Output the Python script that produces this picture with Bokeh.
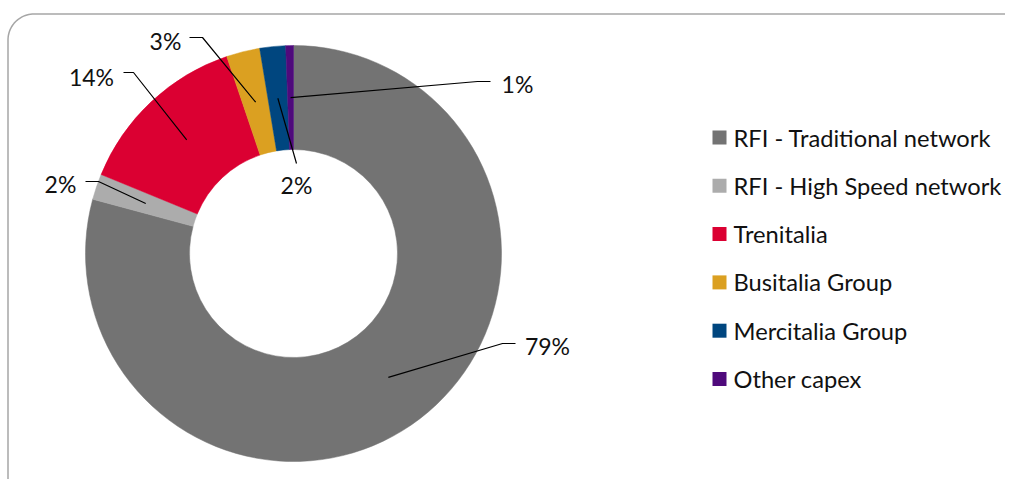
import numpy as np
from bokeh.plotting import figure
from bokeh.models import Range1d, ColumnDataSource
from bokeh.core.properties import value
from bokeh.embed import file_html
from bokeh.resources import INLINE

# ---- data ----
categories = ["RFI - Traditional network", "RFI - High Speed network", "Trenitalia",
              "Busitalia Group", "Mercitalia Group", "Other capex"]
shares = [79.2, 2.0, 13.6, 2.6, 2.0, 0.6]
colors = ["#737373", "#ACACAC", "#DB0032", "#DBA021", "#00467F", "#4F0A7C"]

# ---- layout (picture pixel coordinates, origin top-left) ----
W, H = 1005, 479
FONT = "Lato"
LABEL_FS = "23px"
LEGEND_FS = "23.7px"

def Y(py):
    return H - py

cx, cy = 293, 253
r_in, r_out = 104, 208
r_anchor = 156

# label centres and leader elbows
label_pos = [(547, 345), (60, 183), (91, 76), (165, 40), (296, 184), (517, 83)]
elbows = [[(502, 343), (515, 343)],
          [(98, 181), (85, 181)],
          [(133, 72), (123, 72)],
          [(202, 37), (189, 37)],
          [(296, 163)],
          [(477, 81), (490, 81)]]

p = figure(width=W, height=H, x_range=Range1d(0, W), y_range=Range1d(0, H),
           output_backend="svg", toolbar_location=None, x_axis_type=None, y_axis_type=None,
           min_border=0)
p.outline_line_color = None
p.grid.visible = False
p.background_fill_color = "white"

# rounded border (partly outside the canvas on the right/bottom)
def rounded_rect(x0, y0, x1, y1, r, n=24):
    pts = []
    for (ccx, ccy, a0) in [(x0 + r, y0 + r, 180), (x1 - r, y0 + r, 270),
                           (x1 - r, y1 - r, 0), (x0 + r, y1 - r, 90)]:
        for a in np.linspace(np.radians(a0), np.radians(a0 + 90), n):
            pts.append((ccx + r * np.cos(a), ccy + r * np.sin(a)))
    pts.append(pts[0])
    xs = [q[0] for q in pts]
    ys = [Y(q[1]) for q in pts]
    return xs, ys

bx, by = rounded_rect(7.5, 13.5, 1036, 510, 26)
p.line(bx, by, line_color="#A6A6A6", line_width=1.5)

# donut
total = float(sum(shares))
cum = np.cumsum([0.0] + shares)
starts = np.pi / 2 - 2 * np.pi * cum[:-1] / total
ends = np.pi / 2 - 2 * np.pi * cum[1:] / total
src = ColumnDataSource(dict(start=starts, end=ends, color=colors, cat=categories))
p.annular_wedge(x=cx, y=Y(cy), inner_radius=r_in, outer_radius=r_out,
                start_angle="start", end_angle="end", direction="clock",
                fill_color="color", line_color="color", line_width=0.5, source=src)

# leader lines and labels
mids = (starts + ends) / 2
for i, v in enumerate(shares):
    ax = cx + r_anchor * np.cos(mids[i])
    ay = Y(cy) + r_anchor * np.sin(mids[i])
    xs = [ax] + [e[0] for e in elbows[i]]
    ys = [ay] + [Y(e[1]) for e in elbows[i]]
    p.line(xs, ys, line_color="black", line_width=1.2)
    p.text(x=[label_pos[i][0]], y=[Y(label_pos[i][1])], text=[f"{round(v)}%"],
           text_font=value(FONT), text_font_size=LABEL_FS, text_color="#111111",
           text_align="center", text_baseline="middle")

# legend
leg_x, leg_y0, leg_dy = 719, 137, 48.3
leg_ys = [Y(leg_y0 + i * leg_dy) for i in range(len(categories))]
p.scatter(x=[leg_x] * len(categories), y=leg_ys, marker="square", size=14,
          fill_color=colors, line_color=None)
p.text(x=[733] * len(categories), y=leg_ys, text=categories,
       text_font=value(FONT), text_font_size=LEGEND_FS, text_color="#111111",
       text_align="left", text_baseline="middle")

open("out.html", "w").write(file_html(p, INLINE))
